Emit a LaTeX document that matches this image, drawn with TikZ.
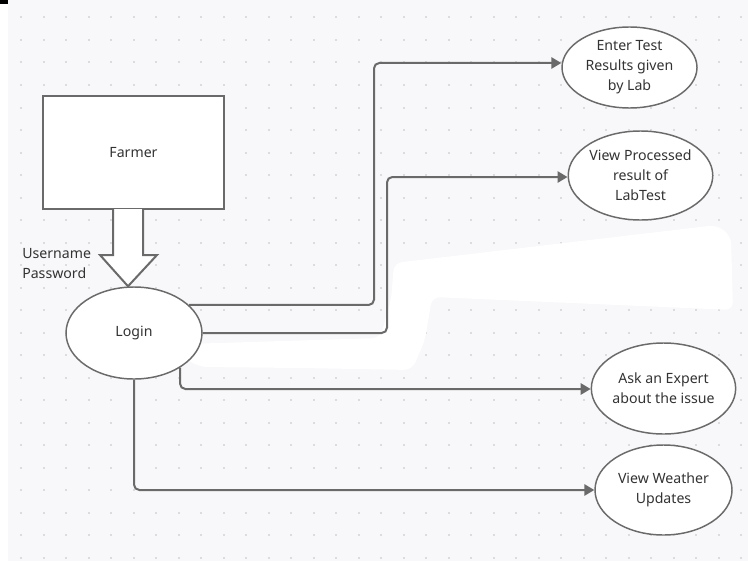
\documentclass[tikz,border=0pt]{standalone}
\usepackage{fontspec}
\setmainfont{Noto Sans}
\usetikzlibrary{arrows.meta,shapes.geometric}
\definecolor{bgc}{HTML}{F8F8FA}
\definecolor{dotc}{HTML}{DCDCDE}
\definecolor{linec}{HTML}{6A6A6A}
\definecolor{textc}{HTML}{333333}
\tikzset{
  ell/.style={ellipse, draw=linec, line width=1.1pt, fill=white, inner sep=0pt,
    align=center, text=textc, font=\fontsize{10.6pt}{15pt}\selectfont},
  conn/.style={draw=linec, line width=1.5pt, rounded corners=4pt,
    -{Triangle[length=7.5pt,width=8.5pt]}},
  boxst/.style={rectangle, draw=linec, line width=1.5pt, fill=white, inner sep=0pt,
    text=textc, font=\fontsize{10.6pt}{15pt}\selectfont},
  lbl/.style={text=textc, font=\fontsize{10.6pt}{15pt}\selectfont, inner sep=0pt, align=left, anchor=west}
}
\begin{document}
\begin{tikzpicture}[x=0.75pt,y=-0.75pt]
\useasboundingbox (0,0) rectangle (748,560);
% background
\fill[bgc] (-4,-4) rectangle (752,564);
\fill[white] (-4,-4) rectangle (8,564);
\fill[black] (-4,-4) rectangle (8,4);
% dot grid
\foreach \i in {0,...,32}{
  \foreach \j in {0,...,24}{
    \fill[dotc] ({21+22.5*\i-1},{17.5+22.5*\j-1}) rectangle ++(2,2);
  }
}
% white smear
\fill[white, rounded corners=6pt] (186,344) -- (380,338) -- (391,300) -- (394,263)
  -- (717,225) -- (731,236) -- (733,310) -- (432,297) -- (425,340) -- (412,370)
  -- (300,368) -- (200,367) -- (184,358) -- cycle;

% nodes
\node[boxst, minimum width=135.75pt, minimum height=84.75pt] (farmer) at (133.5,152.5) {Farmer};
\node[ell, minimum width=102pt, minimum height=69pt] (login) at (134,333) {Login};
\node[ell, minimum width=101.25pt, minimum height=60.75pt] (enter) at (629.5,67.5) {Enter Test\\Results given\\by Lab};
\node[ell, minimum width=101.25pt, minimum height=66.75pt] (proc) at (640.5,175.5) {View Processed\\result of\\LabTest};
\node[ell, minimum width=102.75pt, minimum height=68.25pt] (ask) at (663.5,388.5) {Ask an Expert\\about the issue};
\node[ell, minimum width=102.75pt, minimum height=67.5pt] (weather) at (663.5,490) {View Weather\\Updates};

% hollow arrow from Farmer to Login
\coordinate (ha1) at (113,209);
\coordinate (ha7) at (143,209);
\draw[linec, line width=1.5pt, fill=white, line join=miter]
  (ha1) -- (113,255) -- (100,255) -- (login.north -| 128,0) -- (157,255) -- (143,255) -- (ha7);
\node[lbl] (cred) at (22,263.5) {Username\\Password};

% connectors
\draw[conn] (login.27) -| (374,63) -- (enter.west |- 0,63);
\draw[conn] (login.east) -| (387,177) -- (proc.west |- 0,177);
\draw[conn] (login.-37) |- (ask.west |- 0,389);
\draw[conn] (login.south) |- (weather.west |- 0,490);
\end{tikzpicture}
\end{document}
